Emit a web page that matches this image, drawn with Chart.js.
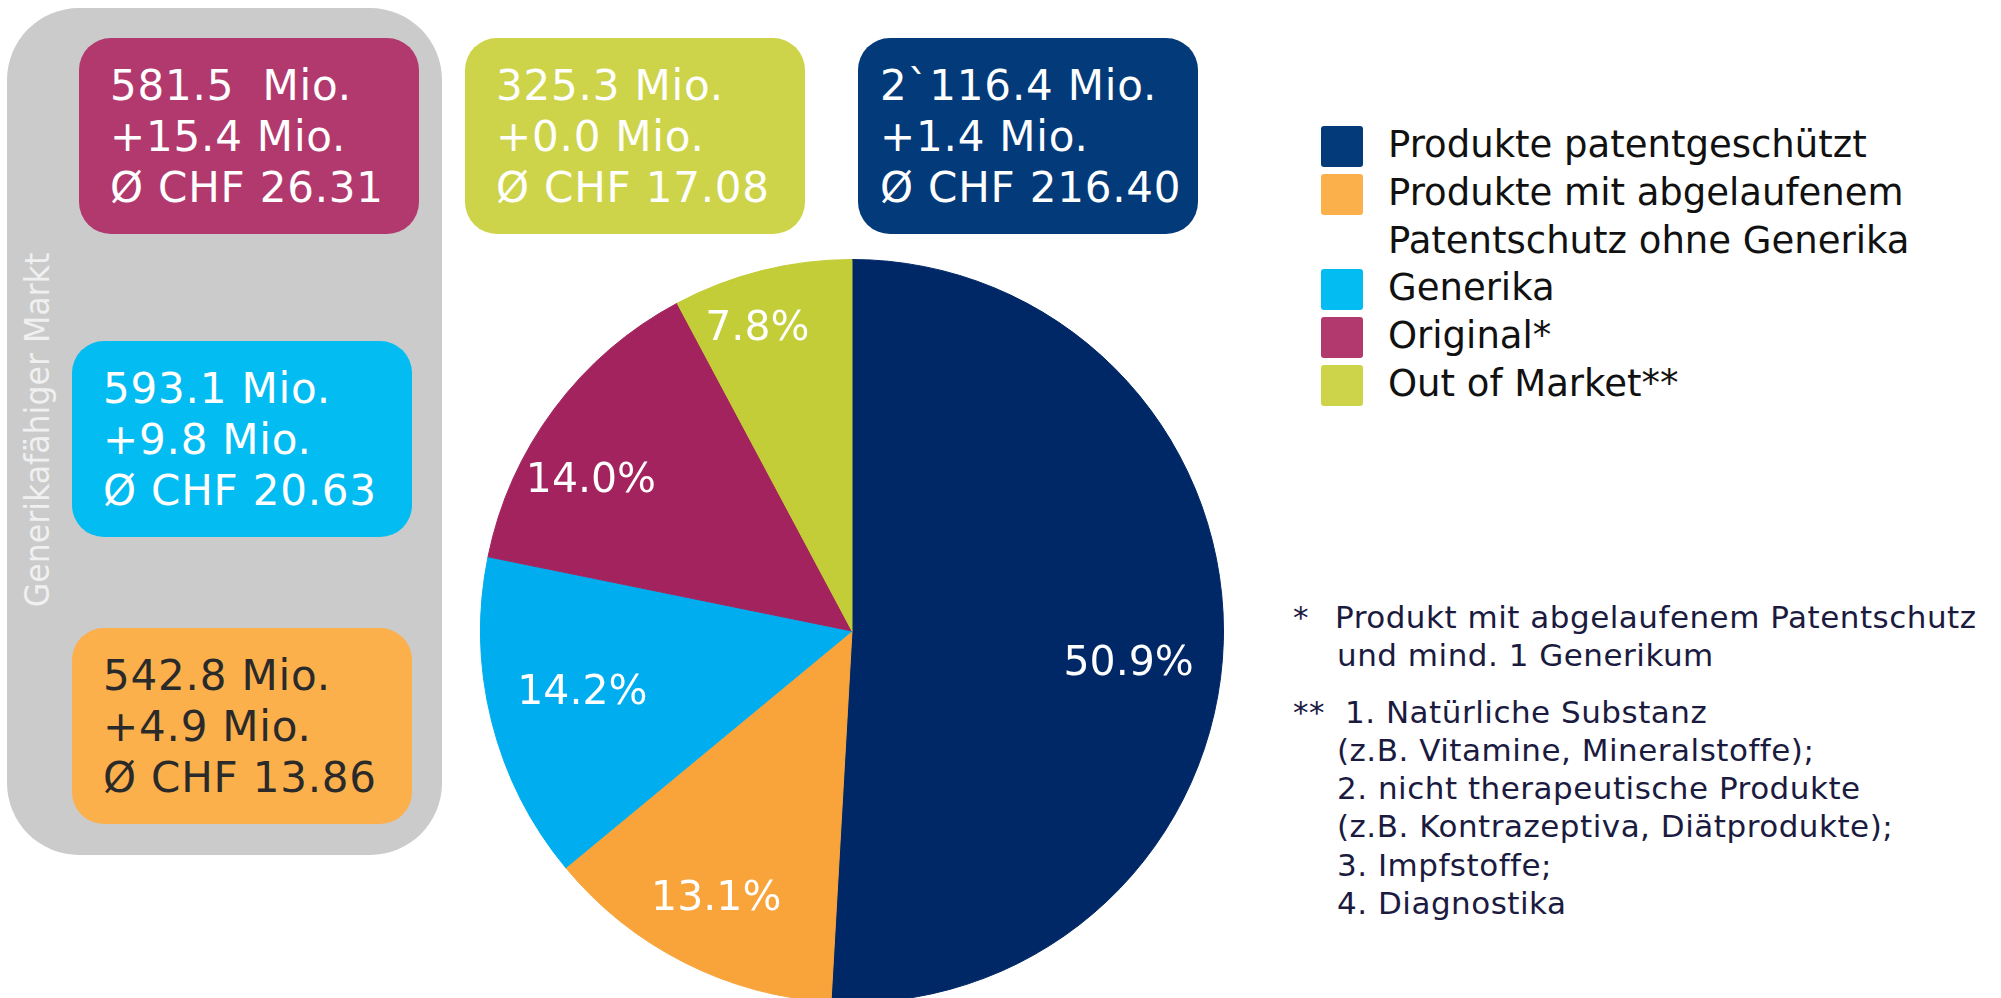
<!DOCTYPE html>
<html>
<head>
<meta charset="utf-8">
<script src="https://cdn.jsdelivr.net/npm/chart.js@4.4.1/dist/chart.umd.min.js"></script>
<style>
  html, body { margin: 0; padding: 0; width: 2001px; height: 998px; overflow: hidden; background: #fff; }
  body { position: relative; font-family: "DejaVu Sans", Verdana, sans-serif; }
  #panel { position: absolute; left: 7px; top: 8px; width: 435px; height: 847px; background: #cbcbcb; border-radius: 72px; }
  #panelLabel { position: absolute; left: 37px; top: 430px; transform: translate(-50%, -50%) rotate(-90deg) scaleX(0.93);
    white-space: nowrap; font-size: 34px; color: #f0f0f0; }
  .box { position: absolute; width: 340px; height: 196px; border-radius: 32px; box-sizing: border-box;
    padding-top: 22px; font-size: 42px; line-height: 51px; letter-spacing: 0.8px; white-space: pre; color: #fff; }
  #chartWrap { position: absolute; left: 480px; top: 259px; width: 744px; height: 744px; }
  #legend { position: absolute; left: 1321px; top: 121px; font-size: 37px; line-height: 47.8px; color: #111; }
  .row { position: relative; padding-left: 67px; white-space: nowrap; }
  .sq { position: absolute; left: 0; top: 5px; width: 42px; height: 41px; border-radius: 3px; }
  #notes { position: absolute; left: 1293px; top: 598px; font-size: 31px; line-height: 38.3px; letter-spacing: 0.5px;
    color: #1b1b3f; white-space: pre; }
  .gap { height: 18px; }
  .mk { display: inline-block; }
</style>
</head>
<body>
<div id="panel"></div>
<div id="panelLabel">Generikafähiger Markt</div>
<div id="boxes"></div>
<div id="chartWrap"><canvas id="pieChart"></canvas></div>
<div id="legend"></div>
<div id="notes"></div>
<script>
// Marktanteile nach Produktkategorie (im Uhrzeigersinn ab 12 Uhr)
const categories = [
  ['Produkte patentgeschützt'],
  ['Produkte mit abgelaufenem', 'Patentschutz ohne Generika'],
  ['Generika'],
  ['Original*'],
  ['Out of Market**']
];
const shares = [50.9, 13.1, 14.2, 14.0, 7.8];
const volumes = ['2`116.4 Mio.', '542.8 Mio.', '593.1 Mio.', '581.5  Mio.', '325.3 Mio.'];
const changes = ['+1.4 Mio.', '+4.9 Mio.', '+9.8 Mio.', '+15.4 Mio.', '+0.0 Mio.'];
const avgPrices = ['216.40', '13.86', '20.63', '26.31', '17.08'];

const pieColors = ['#012866', '#f8a43a', '#00aeef', '#a3235e', '#c3cd37'];
const boxColors = ['#033a79', '#fbb04b', '#03bcf1', '#b2396e', '#cdd449'];
const textColors = ['#fff', '#2a2a2a', '#fff', '#fff', '#fff'];

// Lage der Kästchen (links, oben, Textabstand)
const boxPos = [[858, 38, 22], [72, 628, 31], [72, 341, 31], [79, 38, 31], [465, 38, 31]];
// Lage der Prozentzahlen: Anteil am Radius, Winkelkorrektur in Grad
const labelDist = [0.75, 0.81, 0.745, 0.81, 0.85];
const labelTurn = [5.2, 0, 1.0, -6.9, -3.4];

const notes = [
  ['*', 'Produkt mit abgelaufenem Patentschutz'],
  ['', 'und mind. 1 Generikum'],
  null,
  ['**', '1. Natürliche Substanz'],
  ['', '(z.B. Vitamine, Mineralstoffe);'],
  ['', '2. nicht therapeutische Produkte'],
  ['', '(z.B. Kontrazeptiva, Diätprodukte);'],
  ['', '3. Impfstoffe;'],
  ['', '4. Diagnostika']
];

// Kästchen mit Umsatz, Veränderung und Durchschnittspreis
const boxes = document.getElementById('boxes');
categories.forEach((c, i) => {
  const d = document.createElement('div');
  d.className = 'box';
  d.style.left = boxPos[i][0] + 'px';
  d.style.top = boxPos[i][1] + 'px';
  d.style.paddingLeft = boxPos[i][2] + 'px';
  d.style.background = boxColors[i];
  d.style.color = textColors[i];
  d.textContent = volumes[i] + '\n' + changes[i] + '\nØ CHF ' + avgPrices[i];
  boxes.appendChild(d);
});

// Legende
const legend = document.getElementById('legend');
categories.forEach((c, i) => {
  const row = document.createElement('div');
  row.className = 'row';
  row.innerHTML = '<span class="sq" style="background:' + boxColors[i] + '"></span>' + c.join('<br>');
  legend.appendChild(row);
});

// Fussnoten
const notesEl = document.getElementById('notes');
notes.forEach(n => {
  const line = document.createElement('div');
  if (!n) { line.className = 'gap'; notesEl.appendChild(line); return; }
  const w = n[0] === '**' ? 52 : (n[0] === '' ? 44 : 42);
  line.innerHTML = '<span class="mk" style="width:' + w + 'px">' + n[0] + '</span>' + n[1];
  notesEl.appendChild(line);
});

const pieLabels = {
  id: 'pieLabels',
  afterDatasetsDraw(chart) {
    const ctx = chart.ctx;
    const meta = chart.getDatasetMeta(0);
    ctx.save();
    ctx.fillStyle = '#fff';
    ctx.font = '41px "DejaVu Sans", Verdana, sans-serif';
    ctx.textAlign = 'center';
    ctx.textBaseline = 'middle';
    meta.data.forEach((arc, i) => {
      const p = arc.getProps(['x', 'y', 'startAngle', 'endAngle', 'outerRadius'], true);
      const mid = (p.startAngle + p.endAngle) / 2 + labelTurn[i] * Math.PI / 180;
      const r = p.outerRadius * labelDist[i];
      ctx.fillText(shares[i].toFixed(1) + '%', p.x + Math.cos(mid) * r, p.y + Math.sin(mid) * r);
    });
    ctx.restore();
  }
};

new Chart(document.getElementById('pieChart'), {
  type: 'pie',
  data: {
    labels: categories.map(c => c.join(' ')),
    datasets: [{
      data: shares,
      backgroundColor: pieColors,
      borderColor: pieColors,
      borderWidth: 1
    }]
  },
  options: {
    responsive: true,
    maintainAspectRatio: false,
    animation: false,
    layout: { padding: 0 },
    plugins: { legend: { display: false }, tooltip: { enabled: false } }
  },
  plugins: [pieLabels]
});
</script>
</body>
</html>
